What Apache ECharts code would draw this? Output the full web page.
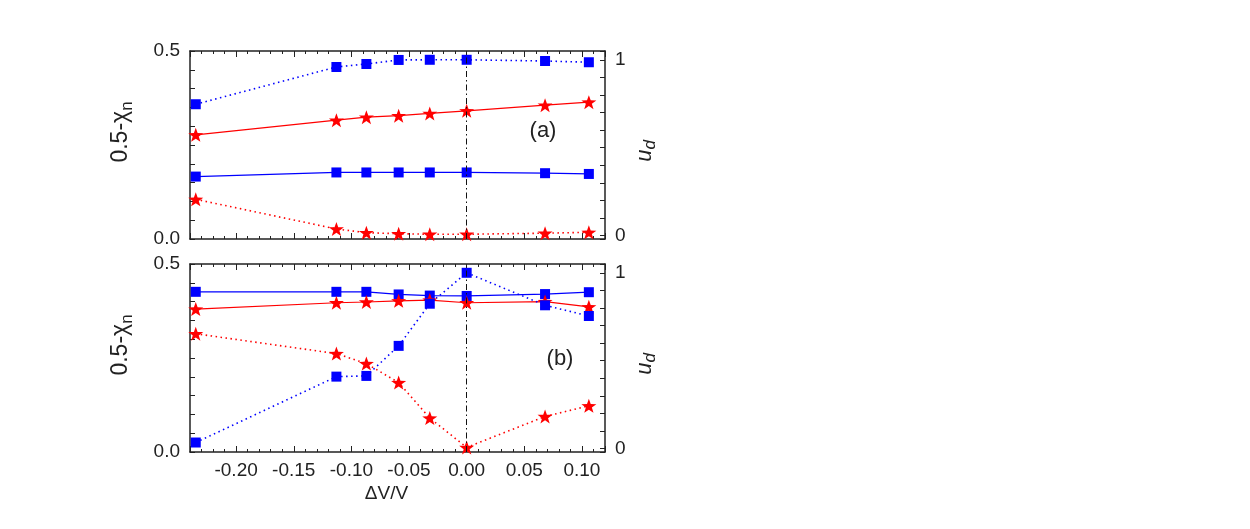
<!DOCTYPE html>
<html lang="en">
  <head>
    <meta charset="UTF-8" />
    <title>chi / ud vs dV/V</title>
    <style>
      html, body { margin: 0; padding: 0; background: #fff; }
    </style>
  </head>
  <body>
    <div id="main" style="width: 1250px; height: 529px"></div>
    <script src="https://cdn.jsdelivr.net/npm/echarts/dist/echarts.min.js"></script>
    <script>
      // x: relative volume change
      var dV = [-0.235, -0.113, -0.087, -0.059, -0.032, 0, 0.068, 0.106];

      // panel (a)
      var chiA_sq = [0.166, 0.177, 0.177, 0.177, 0.177, 0.177, 0.175, 0.173];
      var chiA_star = [0.277, 0.316, 0.324, 0.328, 0.334, 0.341, 0.356, 0.364];
      var udA_sq = [0.747, 0.959, 0.976, 0.999, 1.0, 1.0, 0.993, 0.986];
      var udA_star = [0.206, 0.037, 0.016, 0.01, 0.007, 0.007, 0.013, 0.018];

      // panel (b)
      var chiB_sq = [0.426, 0.426, 0.426, 0.419, 0.416, 0.415, 0.42, 0.425];
      var chiB_star = [0.38, 0.397, 0.399, 0.402, 0.404, 0.397, 0.4, 0.386];
      var udB_sq = [0.034, 0.409, 0.413, 0.584, 0.824, 1.0, 0.815, 0.754];
      var udB_star = [0.653, 0.54, 0.483, 0.375, 0.173, 0.006, 0.182, 0.243];

      var BLUE = "#0000ff";
      var RED = "#ff0000";
      var INK = "#222";
      var FONT = "Liberation Sans";
      var STAR = "path://M0,-10 L2.35,-3.24 L9.51,-3.09 L3.8,1.24 L5.88,8.09 L0,4 L-5.88,8.09 L-3.8,1.24 L-9.51,-3.09 L-2.35,-3.24 Z";

      function pairs(ys) {
        return dV.map(function (x, i) {
          return [x, ys[i]];
        });
      }

      function near(v, t) {
        return Math.abs(v - t) < 1e-6;
      }

      function xAxis(grid, pos, withLabels) {
        return {
          type: "value",
          gridIndex: grid,
          position: pos,
          min: -0.24,
          max: 0.12,
          splitNumber: 7,
          splitLine: { show: false },
          axisLine: { onZero: false, lineStyle: { color: INK, width: 1.5 } },
          axisTick: { inside: true, length: 6, lineStyle: { color: INK } },
          minorTick: { show: true, splitNumber: 5, length: 3, lineStyle: { color: INK } },
          axisLabel: {
            show: withLabels,
            margin: 9,
            color: INK,
            fontFamily: FONT,
            fontSize: 19,
            formatter: function (v) {
              var k = v / 0.05;
              return near(k, Math.round(k)) ? v.toFixed(2) : "";
            },
          },
          name: withLabels ? "ΔV/V" : "",
          nameLocation: "middle",
          nameGap: 32,
          nameTextStyle: { color: INK, fontFamily: FONT, fontSize: 19, padding: [0, 22, 0, 0] },
        };
      }

      function chiAxis(grid) {
        return {
          type: "value",
          gridIndex: grid,
          position: "left",
          min: 0,
          max: 0.5,
          interval: 0.05,
          splitLine: { show: false },
          axisLine: { onZero: false, lineStyle: { color: INK, width: 1.5 } },
          axisTick: { inside: true, length: 5, lineStyle: { color: INK } },
          axisLabel: {
            margin: 10,
            color: INK,
            fontFamily: FONT,
            fontSize: 19,
            formatter: function (v) {
              if (near(v, 0)) return "0.0";
              if (near(v, 0.5)) return "0.5";
              return "";
            },
          },
          name: "{m|0.5-χ}{sub|n}",
          nameLocation: "middle",
          nameRotate: 90,
          nameGap: 54,
          nameTextStyle: {
            color: INK,
            padding: [0, 0, 0, 26],
            rich: {
              m: { fontFamily: FONT, fontSize: 23, color: INK, lineHeight: 30 },
              sub: { fontFamily: FONT, fontSize: 17, color: INK, lineHeight: 17, verticalAlign: "bottom" },
            },
          },
        };
      }

      function udAxis(grid) {
        return {
          type: "value",
          gridIndex: grid,
          position: "right",
          min: -0.02,
          max: 1.05,
          splitNumber: 10,
          splitLine: { show: false },
          axisLine: { onZero: false, lineStyle: { color: INK, width: 1.5 } },
          axisTick: { inside: true, length: 5, lineStyle: { color: INK } },
          axisLabel: {
            margin: 10,
            color: INK,
            fontFamily: FONT,
            fontSize: 19,
            formatter: function (v) {
              if (near(v, 0)) return "0";
              if (near(v, 1)) return "1";
              return "";
            },
          },
          name: "{u|u}{d|d}",
          nameLocation: "middle",
          nameRotate: 90,
          nameGap: 26,
          nameTextStyle: {
            color: INK,
            padding: [0, 12, 0, 0],
            rich: {
              u: { fontFamily: FONT, fontStyle: "italic", fontSize: 22, color: INK, lineHeight: 28 },
              d: { fontFamily: FONT, fontStyle: "italic", fontSize: 17, color: INK, lineHeight: 17, verticalAlign: "bottom" },
            },
          },
        };
      }

      function line(name, data, xi, yi, color, symbol, size, dotted) {
        return {
          name: name,
          type: "line",
          xAxisIndex: xi,
          yAxisIndex: yi,
          data: pairs(data),
          symbol: symbol,
          symbolSize: size,
          showSymbol: true,
          animation: false,
          itemStyle: { color: color },
          lineStyle: dotted
            ? { color: color, width: 1.6, type: [1.5, 3.5] }
            : { color: color, width: 1.2, type: "solid" },
        };
      }

      var chart = echarts.init(document.getElementById("main"));

      var zeroLine = {
        silent: true,
        symbol: "none",
        label: { show: false },
        lineStyle: { color: "#111", width: 1, type: [6, 3, 1.5, 3] },
        data: [{ xAxis: 0 }],
      };

      var series = [
        line("a chi sq", chiA_sq, 0, 0, BLUE, "rect", 10, false),
        line("a chi star", chiA_star, 0, 0, RED, STAR, [15, 14], false),
        line("a ud sq", udA_sq, 0, 1, BLUE, "rect", 10, true),
        line("a ud star", udA_star, 0, 1, RED, STAR, [15, 14], true),
        line("b chi sq", chiB_sq, 2, 2, BLUE, "rect", 10, false),
        line("b chi star", chiB_star, 2, 2, RED, STAR, [15, 14], false),
        line("b ud sq", udB_sq, 2, 3, BLUE, "rect", 10, true),
        line("b ud star", udB_star, 2, 3, RED, STAR, [15, 14], true),
      ];
      series[2].markLine = zeroLine;
      series[6].markLine = zeroLine;

      var option = {
        backgroundColor: "#fff",
        grid: [
          { left: 190, top: 51, width: 415, height: 188 },
          { left: 190, top: 264, width: 415, height: 188 },
        ],
        xAxis: [
          xAxis(0, "bottom", false),
          xAxis(0, "top", false),
          xAxis(1, "bottom", true),
          xAxis(1, "top", false),
        ],
        yAxis: [chiAxis(0), udAxis(0), chiAxis(1), udAxis(1)],
        graphic: [
          {
            type: "text",
            x: 543,
            y: 131,
            style: { text: "(a)", fontFamily: FONT, fontSize: 22, fill: INK, align: "center", verticalAlign: "middle" },
          },
          {
            type: "text",
            x: 560,
            y: 359,
            style: { text: "(b)", fontFamily: FONT, fontSize: 22, fill: INK, align: "center", verticalAlign: "middle" },
          },
        ],
        series: series,
      };

      chart.setOption(option);
    </script>
  </body>
</html>
